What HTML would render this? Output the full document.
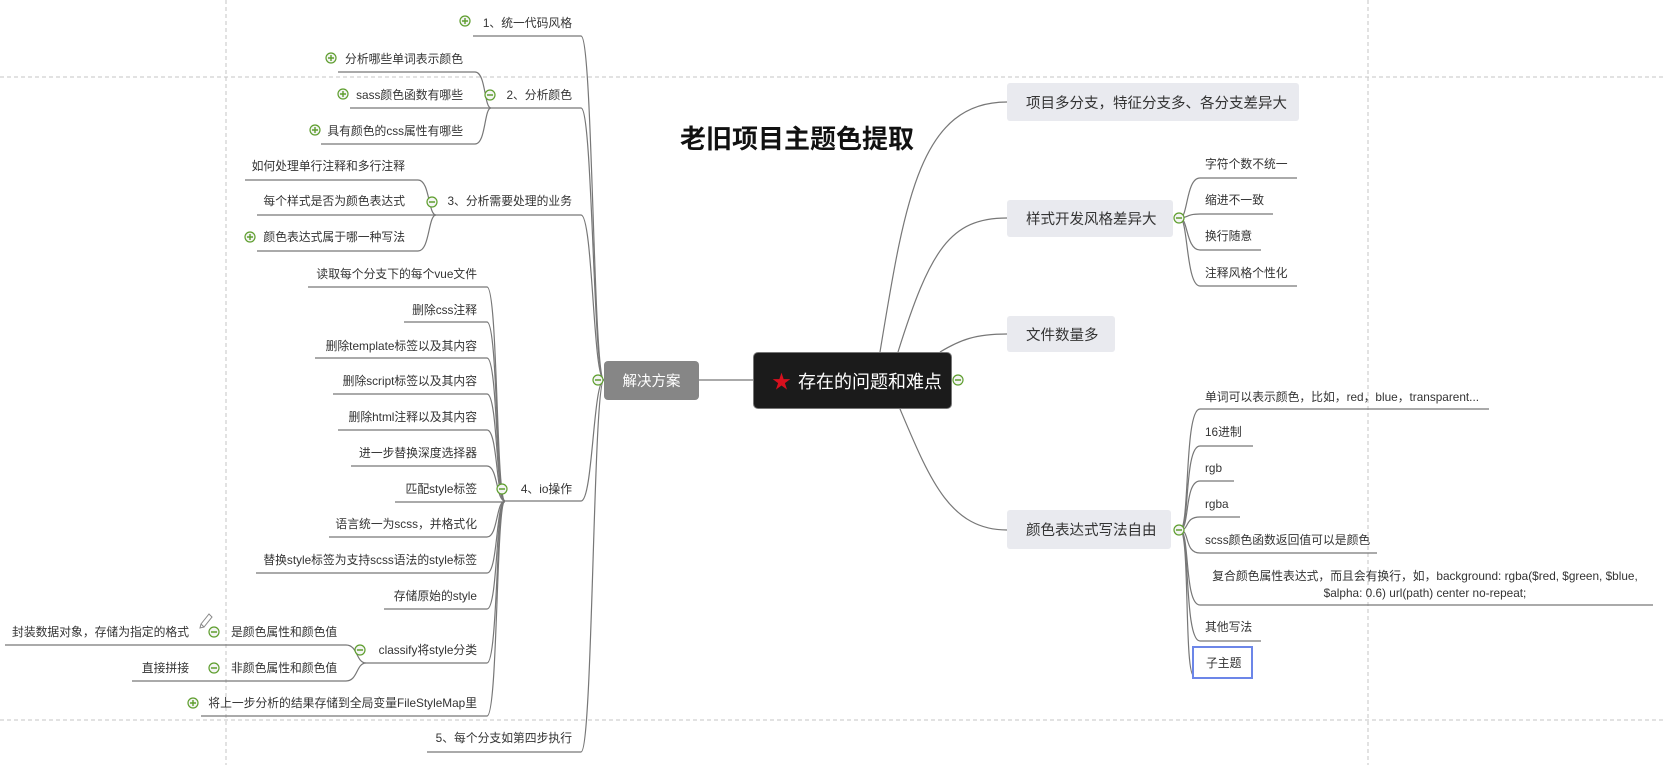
<!DOCTYPE html>
<html><head><meta charset="utf-8">
<style>
html,body{margin:0;padding:0;background:#fff;}
#c{position:relative;width:1663px;height:765px;overflow:hidden;font-family:"Liberation Sans","Noto Sans CJK SC",sans-serif;color:#333;}
.t{position:absolute;font-size:11.8px;line-height:16px;white-space:nowrap;}
.r{text-align:right;}
.box{position:absolute;background:#e9eaef;border-radius:3px;font-size:14.5px;color:#333;box-sizing:border-box;padding-left:19px;display:flex;align-items:center;}
svg{position:absolute;left:0;top:0;}
</style></head><body><div id="c">
<svg width="1663" height="765" viewBox="0 0 1663 765">
<g stroke="#c4c4c4" stroke-dasharray="4,3" fill="none" stroke-width="1">
<line x1="226" y1="0" x2="226" y2="765"/><line x1="1368" y1="0" x2="1368" y2="765"/>
<line x1="0" y1="77" x2="1663" y2="77"/><line x1="0" y1="720" x2="1663" y2="720"/>
</g>
<g stroke="#777" fill="none" stroke-width="1.2">
<path d="M473,36 H581 C593,36 593,380 604,380"/>
<path d="M491,108 H581 C593,108 593,380 604,380"/>
<path d="M436,215 H581 C593,215 593,380 604,380"/>
<path d="M505,501 H581 C593,501 593,380 604,380"/>
<path d="M427,752 H581 C593,752 593,380 604,380"/>
<path d="M338,72 H475 C486,72 484,108 491,108"/>
<path d="M350,108 H491"/>
<path d="M321,144 H475 C486,144 484,108 491,108"/>
<path d="M245,180 H418 C430,180 428,215 436,215"/>
<path d="M257,215 H436"/>
<path d="M257,251 H418 C430,251 428,215 436,215"/>
<path d="M308,287 H487 C498,287 496,501 505,501"/>
<path d="M404,322 H487 C498,322 496,501 505,501"/>
<path d="M315,358 H487 C498,358 496,501 505,501"/>
<path d="M333,394 H487 C498,394 496,501 505,501"/>
<path d="M338,430 H487 C498,430 496,501 505,501"/>
<path d="M351,466 H487 C498,466 496,501 505,501"/>
<path d="M395,502 H505"/>
<path d="M329,537 H487 C498,537 496,501 505,501"/>
<path d="M256,573 H487 C498,573 496,501 505,501"/>
<path d="M384,609 H487 C498,609 496,501 505,501"/>
<path d="M366,663 H487 C498,663 496,501 505,501"/>
<path d="M201,716 H487 C498,716 496,501 505,501"/>
<path d="M222,645 H346 C358,645 356,663 366,663"/>
<path d="M222,681 H346 C358,681 356,663 366,663"/>
<path d="M5,645 H222"/>
<path d="M132,681 H222"/>
<path d="M699,380 H753"/>
<path d="M880,352 C905,200 920,102 1007,102"/>
<path d="M898,352 C930,250 950,218 1007,218"/>
<path d="M940,352 C960,340 975,334 1007,334"/>
<path d="M900,409 C930,480 950,530 1007,530"/>
<path d="M1180,218 C1188,218 1186,178 1200,178 H1297"/>
<path d="M1180,218 C1188,218 1186,214 1200,214 H1273"/>
<path d="M1180,218 C1188,218 1186,250 1200,250 H1261"/>
<path d="M1180,218 C1188,218 1186,286 1200,286 H1297"/>
<path d="M1180,530 C1190,530 1184,409 1200,409 H1489"/>
<path d="M1180,530 C1190,530 1184,446 1200,446 H1253"/>
<path d="M1180,530 C1190,530 1184,481 1200,481 H1234"/>
<path d="M1180,530 C1190,530 1184,517 1200,517 H1240"/>
<path d="M1180,530 C1190,530 1184,553 1200,553 H1377"/>
<path d="M1180,530 C1190,530 1184,605 1200,605 H1653"/>
<path d="M1180,530 C1190,530 1184,641 1200,641 H1261"/>
<path d="M1180,530 C1190,530 1184,676 1194,676"/>
</g>
<g stroke="#5e9e2e" stroke-width="1.2" fill="#f4f4f4">
<circle cx="465" cy="21" r="5"/><circle cx="331" cy="58" r="5"/><circle cx="343" cy="94" r="5"/><circle cx="315" cy="130" r="5"/>
<circle cx="490" cy="95" r="5"/><circle cx="432" cy="202" r="5"/><circle cx="250" cy="237" r="5"/>
<circle cx="502" cy="489" r="5"/><circle cx="360" cy="650" r="5"/><circle cx="214" cy="632" r="5"/><circle cx="214" cy="668" r="5"/>
<circle cx="193" cy="703" r="5"/><circle cx="598" cy="380" r="5"/><circle cx="958" cy="380" r="5"/>
<circle cx="1179" cy="218" r="5"/><circle cx="1179" cy="530" r="5"/>
</g>
<g stroke="#5e9e2e" stroke-width="1.4">
<path d="M462,21h6M465,18v6M328,58h6M331,55v6M340,94h6M343,91v6M312,130h6M315,127v6M247,237h6M250,234v6M190,703h6M193,700v6"/>
<path d="M487,95h6M429,202h6M499,489h6M357,650h6M211,632h6M211,668h6M595,380h6M955,380h6M1176,218h6M1176,530h6"/>
</g>
<g stroke="#888" fill="none" stroke-width="1"><path d="M201,624 L209,614 L212,617 L204,627 Z M201,624 L200,628 L204,627"/></g>
</svg>

<div class="t" style="left:680px;top:122px;font-size:26px;line-height:34px;font-weight:bold;color:#111;">老旧项目主题色提取</div>

<div style="position:absolute;left:753px;top:352px;width:199px;height:57px;background:#1b1b1b;border:1px solid #777;border-radius:5px;box-sizing:border-box;color:#fff;font-size:18px;display:flex;align-items:center;"><span style="color:#d8101e;font-size:19px;margin-left:18px;margin-right:7px;">★</span>存在的问题和难点</div>
<div style="position:absolute;left:604px;top:361px;width:95px;height:39px;background:#868686;border-radius:4px;color:#fff;font-size:14.5px;display:flex;align-items:center;justify-content:center;">解决方案</div>

<div class="box" style="left:1007px;top:83px;width:292px;height:38px;">项目多分支，特征分支多、各分支差异大</div>
<div class="box" style="left:1007px;top:200px;width:166px;height:37px;">样式开发风格差异大</div>
<div class="box" style="left:1007px;top:316px;width:108px;height:36px;">文件数量多</div>
<div class="box" style="left:1007px;top:510px;width:164px;height:39px;">颜色表达式写法自由</div>

<div class="t" style="left:1205px;top:156px;">字符个数不统一</div>
<div class="t" style="left:1205px;top:192px;">缩进不一致</div>
<div class="t" style="left:1205px;top:228px;">换行随意</div>
<div class="t" style="left:1205px;top:265px;">注释风格个性化</div>

<div class="t" style="left:1205px;top:389px;">单词可以表示颜色，比如，red，blue，transparent...</div>
<div class="t" style="left:1205px;top:424px;">16进制</div>
<div class="t" style="left:1205px;top:460px;">rgb</div>
<div class="t" style="left:1205px;top:496px;">rgba</div>
<div class="t" style="left:1205px;top:532px;">scss颜色函数返回值可以是颜色</div>
<div class="t" style="left:1205px;top:568px;width:440px;text-align:center;line-height:17px;white-space:normal;">复合颜色属性表达式，而且会有换行，如，background: rgba($red, $green, $blue, $alpha: 0.6) url(path) center no-repeat;</div>
<div class="t" style="left:1205px;top:619px;">其他写法</div>
<div style="position:absolute;left:1192px;top:646px;width:61px;height:33px;border:2px solid #6c86e8;box-sizing:border-box;font-size:11.8px;display:flex;align-items:center;padding-left:12px;">子主题</div>

<div class="t r" style="right:1091px;top:15px;">1、统一代码风格</div>
<div class="t r" style="right:1091px;top:87px;">2、分析颜色</div>
<div class="t r" style="right:1200px;top:51px;">分析哪些单词表示颜色</div>
<div class="t r" style="right:1200px;top:87px;">sass颜色函数有哪些</div>
<div class="t r" style="right:1200px;top:123px;">具有颜色的css属性有哪些</div>
<div class="t r" style="right:1091px;top:193px;">3、分析需要处理的业务</div>
<div class="t r" style="right:1258px;top:158px;">如何处理单行注释和多行注释</div>
<div class="t r" style="right:1258px;top:193px;">每个样式是否为颜色表达式</div>
<div class="t r" style="right:1258px;top:229px;">颜色表达式属于哪一种写法</div>
<div class="t r" style="right:1091px;top:481px;">4、io操作</div>
<div class="t r" style="right:1186px;top:266px;">读取每个分支下的每个vue文件</div>
<div class="t r" style="right:1186px;top:302px;">删除css注释</div>
<div class="t r" style="right:1186px;top:338px;">删除template标签以及其内容</div>
<div class="t r" style="right:1186px;top:373px;">删除script标签以及其内容</div>
<div class="t r" style="right:1186px;top:409px;">删除html注释以及其内容</div>
<div class="t r" style="right:1186px;top:445px;">进一步替换深度选择器</div>
<div class="t r" style="right:1186px;top:481px;">匹配style标签</div>
<div class="t r" style="right:1186px;top:516px;">语言统一为scss，并格式化</div>
<div class="t r" style="right:1186px;top:552px;">替换style标签为支持scss语法的style标签</div>
<div class="t r" style="right:1186px;top:588px;">存储原始的style</div>
<div class="t r" style="right:1186px;top:642px;">classify将style分类</div>
<div class="t" style="left:231px;top:624px;">是颜色属性和颜色值</div>
<div class="t" style="left:231px;top:660px;">非颜色属性和颜色值</div>
<div class="t r" style="right:1474px;top:624px;">封装数据对象，存储为指定的格式</div>
<div class="t r" style="right:1474px;top:660px;">直接拼接</div>
<div class="t r" style="right:1186px;top:695px;">将上一步分析的结果存储到全局变量FileStyleMap里</div>
<div class="t r" style="right:1091px;top:730px;">5、每个分支如第四步执行</div>
</div></body></html>
